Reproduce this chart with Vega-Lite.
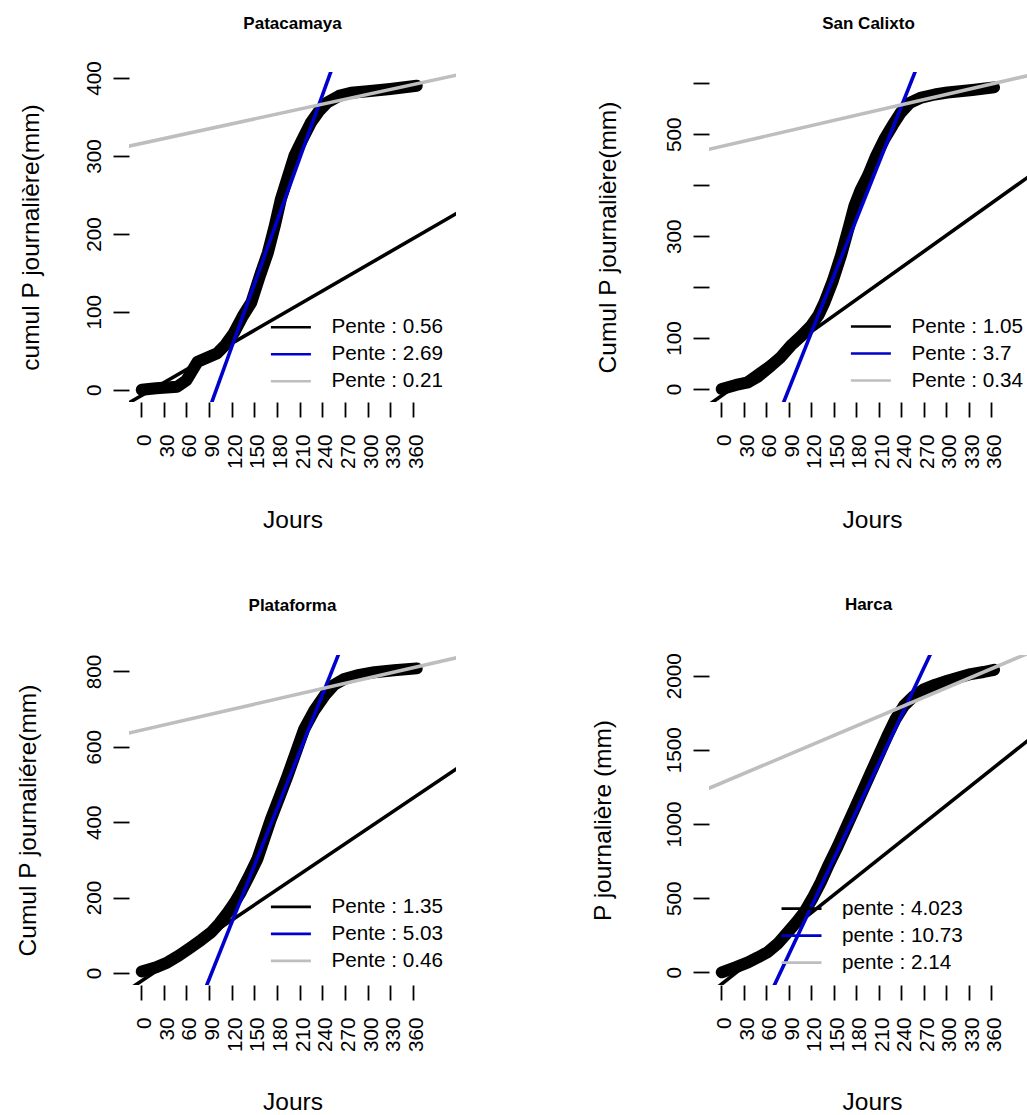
{
  "$schema": "https://vega.github.io/schema/vega-lite/v6.json",
  "padding": {"left": 15, "top": 14, "right": 0, "bottom": 0},
  "background": "white",
  "config": {
    "view": {"stroke": null},
    "font": "Liberation Sans",
    "axis": {
      "domain": false, "grid": false, "ticks": true, "tickColor": "black", "tickWidth": 1.8,
      "labelColor": "black", "labelFont": "Liberation Sans", "labelFontSize": 20.7,
      "titleColor": "black", "titleFont": "Liberation Sans", "titleFontSize": 24.5, "titleFontWeight": "normal",
      "labelOverlap": false, "labelFlush": false, "labelBound": false
    },
    "axisX": {"tickSize": 15, "tickCount": 13, "labelAngle": 270, "labelAlign": "right", "labelBaseline": "middle", "labelPadding": 17, "labelOffset": 3.5, "titleBaseline": "alphabetic", "titleAlign": "center", "titleAngle": 0},
    "axisY": {"tickSize": 16, "tickCount": 10, "labelAngle": 270, "labelAlign": "center", "labelBaseline": "alphabetic", "labelPadding": 13, "titleBaseline": "alphabetic", "titleAlign": "center", "titleAngle": 270},
    "legend": {"padding": 0, "offset": 0, "labelFont": "Liberation Sans", "labelFontSize": 20.7, "labelColor": "black", "symbolType": "M-2,0H2", "symbolSize": 400, "symbolStrokeWidth": 2.6, "labelOffset": 29, "rowPadding": 5, "direction": "vertical", "title": null},
    "title": {"font": "Liberation Sans", "fontSize": 17, "fontWeight": "bold", "color": "black", "anchor": "middle", "baseline": "alphabetic"}
  },
  "datasets": {
    "curves": [
      {"station":"Patacamaya","jour":1,"cumul":0},{"station":"Patacamaya","jour":20,"cumul":2},{"station":"Patacamaya","jour":48,"cumul":4},{"station":"Patacamaya","jour":60,"cumul":12},{"station":"Patacamaya","jour":75,"cumul":36},{"station":"Patacamaya","jour":101,"cumul":47},{"station":"Patacamaya","jour":112,"cumul":58},{"station":"Patacamaya","jour":123,"cumul":73},{"station":"Patacamaya","jour":135,"cumul":95},{"station":"Patacamaya","jour":146,"cumul":112},{"station":"Patacamaya","jour":157,"cumul":145},{"station":"Patacamaya","jour":168,"cumul":176},{"station":"Patacamaya","jour":177,"cumul":210},{"station":"Patacamaya","jour":185,"cumul":244},{"station":"Patacamaya","jour":194,"cumul":272},{"station":"Patacamaya","jour":203,"cumul":300},{"station":"Patacamaya","jour":214,"cumul":322},{"station":"Patacamaya","jour":225,"cumul":343},{"station":"Patacamaya","jour":236,"cumul":358},{"station":"Patacamaya","jour":247,"cumul":369},{"station":"Patacamaya","jour":262,"cumul":377},{"station":"Patacamaya","jour":278,"cumul":381},{"station":"Patacamaya","jour":300,"cumul":383},{"station":"Patacamaya","jour":330,"cumul":386},{"station":"Patacamaya","jour":365,"cumul":390},
      {"station":"San Calixto","jour":1,"cumul":0},{"station":"San Calixto","jour":20,"cumul":8},{"station":"San Calixto","jour":36,"cumul":13},{"station":"San Calixto","jour":50,"cumul":25},{"station":"San Calixto","jour":67,"cumul":46},{"station":"San Calixto","jour":80,"cumul":63},{"station":"San Calixto","jour":93,"cumul":85},{"station":"San Calixto","jour":107,"cumul":104},{"station":"San Calixto","jour":120,"cumul":124},{"station":"San Calixto","jour":130,"cumul":145},{"station":"San Calixto","jour":138,"cumul":170},{"station":"San Calixto","jour":149,"cumul":212},{"station":"San Calixto","jour":160,"cumul":262},{"station":"San Calixto","jour":169,"cumul":310},{"station":"San Calixto","jour":178,"cumul":360},{"station":"San Calixto","jour":186,"cumul":390},{"station":"San Calixto","jour":196,"cumul":419},{"station":"San Calixto","jour":206,"cumul":455},{"station":"San Calixto","jour":218,"cumul":491},{"station":"San Calixto","jour":229,"cumul":518},{"station":"San Calixto","jour":240,"cumul":543},{"station":"San Calixto","jour":252,"cumul":562},{"station":"San Calixto","jour":267,"cumul":572},{"station":"San Calixto","jour":285,"cumul":578},{"station":"San Calixto","jour":302,"cumul":582},{"station":"San Calixto","jour":335,"cumul":587},{"station":"San Calixto","jour":364,"cumul":592},
      {"station":"Plataforma","jour":1,"cumul":4},{"station":"Plataforma","jour":20,"cumul":15},{"station":"Plataforma","jour":35,"cumul":28},{"station":"Plataforma","jour":50,"cumul":46},{"station":"Plataforma","jour":66,"cumul":68},{"station":"Plataforma","jour":80,"cumul":88},{"station":"Plataforma","jour":93,"cumul":108},{"station":"Plataforma","jour":104,"cumul":132},{"station":"Plataforma","jour":115,"cumul":161},{"station":"Plataforma","jour":124,"cumul":187},{"station":"Plataforma","jour":132,"cumul":214},{"station":"Plataforma","jour":143,"cumul":257},{"station":"Plataforma","jour":154,"cumul":302},{"station":"Plataforma","jour":163,"cumul":355},{"station":"Plataforma","jour":172,"cumul":408},{"station":"Plataforma","jour":183,"cumul":465},{"station":"Plataforma","jour":194,"cumul":523},{"station":"Plataforma","jour":205,"cumul":585},{"station":"Plataforma","jour":216,"cumul":647},{"station":"Plataforma","jour":229,"cumul":695},{"station":"Plataforma","jour":243,"cumul":736},{"station":"Plataforma","jour":256,"cumul":765},{"station":"Plataforma","jour":269,"cumul":780},{"station":"Plataforma","jour":289,"cumul":791},{"station":"Plataforma","jour":309,"cumul":798},{"station":"Plataforma","jour":335,"cumul":803},{"station":"Plataforma","jour":365,"cumul":808},
      {"station":"Harca","jour":1,"cumul":0},{"station":"Harca","jour":20,"cumul":35},{"station":"Harca","jour":36,"cumul":67},{"station":"Harca","jour":49,"cumul":100},{"station":"Harca","jour":62,"cumul":135},{"station":"Harca","jour":76,"cumul":195},{"station":"Harca","jour":89,"cumul":270},{"station":"Harca","jour":100,"cumul":335},{"station":"Harca","jour":111,"cumul":405},{"station":"Harca","jour":122,"cumul":500},{"station":"Harca","jour":133,"cumul":607},{"station":"Harca","jour":144,"cumul":730},{"station":"Harca","jour":156,"cumul":854},{"station":"Harca","jour":167,"cumul":978},{"station":"Harca","jour":178,"cumul":1101},{"station":"Harca","jour":189,"cumul":1225},{"station":"Harca","jour":200,"cumul":1349},{"station":"Harca","jour":211,"cumul":1472},{"station":"Harca","jour":222,"cumul":1596},{"station":"Harca","jour":233,"cumul":1710},{"station":"Harca","jour":244,"cumul":1798},{"station":"Harca","jour":257,"cumul":1862},{"station":"Harca","jour":271,"cumul":1910},{"station":"Harca","jour":286,"cumul":1940},{"station":"Harca","jour":302,"cumul":1966},{"station":"Harca","jour":318,"cumul":1990},{"station":"Harca","jour":333,"cumul":2011},{"station":"Harca","jour":350,"cumul":2025},{"station":"Harca","jour":364,"cumul":2040}
    ],
    "droites": [
      {"station":"Patacamaya","legende":"Pente : 0.56","jour":-50,"cumul":-35.7},{"station":"Patacamaya","legende":"Pente : 0.56","jour":450,"cumul":244.3},
      {"station":"Patacamaya","legende":"Pente : 2.69","jour":-50,"cumul":-402.5},{"station":"Patacamaya","legende":"Pente : 2.69","jour":450,"cumul":942.5},
      {"station":"Patacamaya","legende":"Pente : 0.21","jour":-50,"cumul":305.5},{"station":"Patacamaya","legende":"Pente : 0.21","jour":450,"cumul":410.5},
      {"station":"San Calixto","legende":"Pente : 1.05","jour":-50,"cumul":-66.5},{"station":"San Calixto","legende":"Pente : 1.05","jour":450,"cumul":458.5},
      {"station":"San Calixto","legende":"Pente : 3.7","jour":-50,"cumul":-520},{"station":"San Calixto","legende":"Pente : 3.7","jour":450,"cumul":1330},
      {"station":"San Calixto","legende":"Pente : 0.34","jour":-50,"cumul":459},{"station":"San Calixto","legende":"Pente : 0.34","jour":450,"cumul":629},
      {"station":"Plataforma","legende":"Pente : 1.35","jour":-50,"cumul":-89.5},{"station":"Plataforma","legende":"Pente : 1.35","jour":450,"cumul":585.5},
      {"station":"Plataforma","legende":"Pente : 5.03","jour":-50,"cumul":-721.5},{"station":"Plataforma","legende":"Pente : 5.03","jour":450,"cumul":1793.5},
      {"station":"Plataforma","legende":"Pente : 0.46","jour":-50,"cumul":621},{"station":"Plataforma","legende":"Pente : 0.46","jour":450,"cumul":851},
      {"station":"Harca","legende":"pente : 4.023","jour":-50,"cumul":-284.2},{"station":"Harca","legende":"pente : 4.023","jour":450,"cumul":1727.4},
      {"station":"Harca","legende":"pente : 10.73","jour":-50,"cumul":-1386.5},{"station":"Harca","legende":"pente : 10.73","jour":450,"cumul":3978.5},
      {"station":"Harca","legende":"pente : 2.14","jour":-50,"cumul":1168},{"station":"Harca","legende":"pente : 2.14","jour":450,"cumul":2238}
    ]
  },
  "columns": 2,
  "spacing": 253,
  "bounds": "flush",
  "resolve": {"scale": {"color": "independent", "x": "independent", "y": "independent"}, "legend": {"color": "independent"}},
  "concat": [
    {
      "title": {"text": "Patacamaya", "offset": 28},
      "width": 327, "height": 330,
      "layer": [
        {
          "data": {"name": "curves"},
          "transform": [{"filter": "datum.station == 'Patacamaya'"}],
          "mark": {"type": "line", "color": "black", "strokeWidth": 12, "strokeCap": "round", "strokeJoin": "round"},
          "encoding": {
            "x": {"field": "jour", "type": "quantitative", "scale": {"domain": [-15.9, 417], "nice": false, "zero": false},
                  "axis": {"title": "Jours", "values": [0,30,60,90,120,150,180,210,240,270,300,330,360], "tickCount": 13, "format": "d", "titleY": 125, "titleX": 163.5}},
            "y": {"field": "cumul", "type": "quantitative", "scale": {"domain": [-15.7, 407.7], "nice": false, "zero": false},
                  "axis": {"title": "cumul P journalière(mm)", "values": [0,100,200,300,400], "tickCount": 10, "format": "d", "titleX": -90.5, "titleY": 165}}
          }
        },
        {
          "data": {"name": "droites"},
          "transform": [{"filter": "datum.station == 'Patacamaya'"}],
          "mark": {"type": "line", "clip": true, "strokeWidth": 3.6},
          "encoding": {
            "x": {"field": "jour", "type": "quantitative"},
            "y": {"field": "cumul", "type": "quantitative"},
            "color": {"field": "legende", "type": "nominal",
                      "scale": {"domain": ["Pente : 0.56", "Pente : 2.69", "Pente : 0.21"], "range": ["#000000", "#0000CD", "#BEBEBE"]},
                      "legend": {"orient": "none", "legendX": 150.4, "legendY": 243.7}}
          }
        },
        {"mark": {"type": "rule", "color": "black", "strokeWidth": 1.8},
         "encoding": {"x": {"datum": -15.9, "type": "quantitative"}, "y": {"datum": 0, "type": "quantitative"}, "y2": {"datum": 400}}},
        {"mark": {"type": "rule", "color": "black", "strokeWidth": 1.8},
         "encoding": {"y": {"datum": -15.7, "type": "quantitative"}, "x": {"datum": 0, "type": "quantitative"}, "x2": {"datum": 360}}}
      ]
    },
    {
      "title": {"text": "San Calixto", "offset": 39},
      "width": 319, "height": 330,
      "layer": [
        {
          "data": {"name": "curves"},
          "transform": [{"filter": "datum.station == 'San Calixto'"}],
          "mark": {"type": "line", "color": "black", "strokeWidth": 12, "strokeCap": "round", "strokeJoin": "round"},
          "encoding": {
            "x": {"field": "jour", "type": "quantitative", "scale": {"domain": [-16, 409.3], "nice": false, "zero": false},
                  "axis": {"title": "Jours", "values": [0,30,60,90,120,150,180,210,240,270,300,330,360], "tickCount": 13, "format": "d", "titleY": 125, "titleX": 163}},
            "y": {"field": "cumul", "type": "quantitative", "scale": {"domain": [-25.5, 622.2], "nice": false, "zero": false},
                  "axis": {"title": "Cumul P journalière(mm)", "values": [0,100,200,300,400,500,600], "tickCount": 10, "format": "d", "labelExpr": "datum.value == 200 || datum.value == 400 || datum.value == 600 ? '' : datum.label", "titleX": -93.5, "titleY": 165}}
          }
        },
        {
          "data": {"name": "droites"},
          "transform": [{"filter": "datum.station == 'San Calixto'"}],
          "mark": {"type": "line", "clip": true, "strokeWidth": 3.6},
          "encoding": {
            "x": {"field": "jour", "type": "quantitative"},
            "y": {"field": "cumul", "type": "quantitative"},
            "color": {"field": "legende", "type": "nominal",
                      "scale": {"domain": ["Pente : 1.05", "Pente : 3.7", "Pente : 0.34"], "range": ["#000000", "#0000CD", "#BEBEBE"]},
                      "legend": {"orient": "none", "legendX": 150.4, "legendY": 243}}
          }
        },
        {"mark": {"type": "rule", "color": "black", "strokeWidth": 1.8},
         "encoding": {"x": {"datum": -16, "type": "quantitative"}, "y": {"datum": 0, "type": "quantitative"}, "y2": {"datum": 600}}},
        {"mark": {"type": "rule", "color": "black", "strokeWidth": 1.8},
         "encoding": {"y": {"datum": -25.5, "type": "quantitative"}, "x": {"datum": 0, "type": "quantitative"}, "x2": {"datum": 360}}}
      ]
    },
    {
      "title": {"text": "Plataforma", "offset": 39},
      "width": 327, "height": 330,
      "layer": [
        {
          "data": {"name": "curves"},
          "transform": [{"filter": "datum.station == 'Plataforma'"}],
          "mark": {"type": "line", "color": "black", "strokeWidth": 12, "strokeCap": "round", "strokeJoin": "round"},
          "encoding": {
            "x": {"field": "jour", "type": "quantitative", "scale": {"domain": [-15.9, 417], "nice": false, "zero": false},
                  "axis": {"title": "Jours", "values": [0,30,60,90,120,150,180,210,240,270,300,330,360], "tickCount": 13, "format": "d", "titleY": 124, "titleX": 163.5}},
            "y": {"field": "cumul", "type": "quantitative", "scale": {"domain": [-31.8, 843.5], "nice": false, "zero": false},
                  "axis": {"title": "Cumul P journaliére(mm)", "values": [0,200,400,600,800], "tickCount": 10, "format": "d", "titleX": -93.5, "titleY": 165}}
          }
        },
        {
          "data": {"name": "droites"},
          "transform": [{"filter": "datum.station == 'Plataforma'"}],
          "mark": {"type": "line", "clip": true, "strokeWidth": 3.6},
          "encoding": {
            "x": {"field": "jour", "type": "quantitative"},
            "y": {"field": "cumul", "type": "quantitative"},
            "color": {"field": "legende", "type": "nominal",
                      "scale": {"domain": ["Pente : 1.35", "Pente : 5.03", "Pente : 0.46"], "range": ["#000000", "#0000CD", "#BEBEBE"]},
                      "legend": {"orient": "none", "legendX": 150.4, "legendY": 240.4}}
          }
        },
        {"mark": {"type": "rule", "color": "black", "strokeWidth": 1.8},
         "encoding": {"x": {"datum": -15.9, "type": "quantitative"}, "y": {"datum": 0, "type": "quantitative"}, "y2": {"datum": 800}}},
        {"mark": {"type": "rule", "color": "black", "strokeWidth": 1.8},
         "encoding": {"y": {"datum": -31.8, "type": "quantitative"}, "x": {"datum": 0, "type": "quantitative"}, "x2": {"datum": 360}}}
      ]
    },
    {
      "title": {"text": "Harca", "offset": 39},
      "width": 319, "height": 330,
      "layer": [
        {
          "data": {"name": "curves"},
          "transform": [{"filter": "datum.station == 'Harca'"}],
          "mark": {"type": "line", "color": "black", "strokeWidth": 12, "strokeCap": "round", "strokeJoin": "round"},
          "encoding": {
            "x": {"field": "jour", "type": "quantitative", "scale": {"domain": [-16, 409.3], "nice": false, "zero": false},
                  "axis": {"title": "Jours", "values": [0,30,60,90,120,150,180,210,240,270,300,330,360], "tickCount": 13, "format": "d", "titleY": 124, "titleX": 163}},
            "y": {"field": "cumul", "type": "quantitative", "scale": {"domain": [-85.6, 2139.6], "nice": false, "zero": false},
                  "axis": {"title": "P journalière (mm)", "values": [0,500,1000,1500,2000], "tickCount": 10, "format": "d", "titleX": -98.5, "titleY": 165}}
          }
        },
        {
          "data": {"name": "droites"},
          "transform": [{"filter": "datum.station == 'Harca'"}],
          "mark": {"type": "line", "clip": true, "strokeWidth": 3.6},
          "encoding": {
            "x": {"field": "jour", "type": "quantitative"},
            "y": {"field": "cumul", "type": "quantitative"},
            "color": {"field": "legende", "type": "nominal",
                      "scale": {"domain": ["pente : 4.023", "pente : 10.73", "pente : 2.14"], "range": ["#000000", "#0000CD", "#BEBEBE"]},
                      "legend": {"orient": "none", "legendX": 81, "legendY": 242.1}}
          }
        },
        {"mark": {"type": "rule", "color": "black", "strokeWidth": 1.8},
         "encoding": {"x": {"datum": -16, "type": "quantitative"}, "y": {"datum": 0, "type": "quantitative"}, "y2": {"datum": 2000}}},
        {"mark": {"type": "rule", "color": "black", "strokeWidth": 1.8},
         "encoding": {"y": {"datum": -85.6, "type": "quantitative"}, "x": {"datum": 0, "type": "quantitative"}, "x2": {"datum": 360}}}
      ]
    }
  ]
}
